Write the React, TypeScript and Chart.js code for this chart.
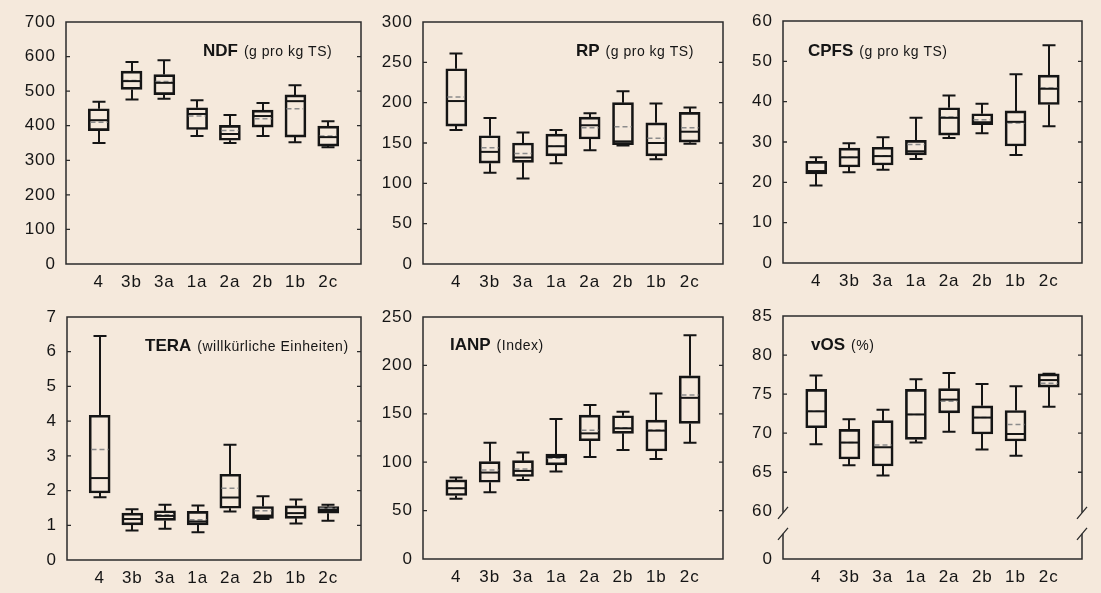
import React, { useEffect, useRef } from 'react';
import { Chart, registerables } from 'chart.js';

Chart.register(...registerables);

// ---------- data ----------
const CATEGORIES = ['4', '3b', '3a', '1a', '2a', '2b', '1b', '2c'];

// NDF (g pro kg TS)
const NDF_MIN = [350, 476, 478, 370, 350, 370, 352, 338];
const NDF_Q1 = [386, 505, 490, 389, 358, 396, 367, 341];
const NDF_MEDIAN = [416, 529, 524, 434, 376, 428, 471, 367];
const NDF_MEAN = [410, 531, 528, 428, 386, 420, 449, 370];
const NDF_Q3 = [449, 558, 548, 452, 401, 445, 489, 399];
const NDF_MAX = [469, 584, 589, 474, 431, 466, 517, 413];
const NDF_TICKS = [0, 100, 200, 300, 400, 500, 600, 700];

// RP (g pro kg TS)
const RP_MIN = [166, 113, 106, 125, 141, 147, 130, 149];
const RP_Q1 = [171, 125, 126, 134, 155, 148, 134, 151];
const RP_MEDIAN = [202, 139, 132, 146, 172, 152, 150, 164];
const RP_MEAN = [207, 144, 137, 146, 169, 170, 156, 169];
const RP_Q3 = [242, 159, 150, 161, 182, 200, 175, 188];
const RP_MAX = [261, 181, 163, 166, 187, 214, 199, 194];
const RP_TICKS = [0, 50, 100, 150, 200, 250, 300];

// CPFS (g pro kg TS)
const CPFS_MIN = [19.2, 22.5, 23.1, 25.8, 31.0, 32.2, 26.8, 33.9];
const CPFS_Q1 = [22.1, 23.8, 24.3, 26.8, 31.7, 34.3, 29.0, 39.3];
const CPFS_MEDIAN = [22.8, 26.2, 26.5, 27.7, 36.0, 34.9, 35.0, 43.2];
const CPFS_MEAN = [22.9, 26.2, 26.6, 29.4, 36.2, 35.5, 34.7, 43.4];
const CPFS_Q3 = [25.2, 28.5, 28.7, 30.4, 38.5, 37.0, 37.7, 46.6];
const CPFS_MAX = [26.2, 29.7, 31.2, 36.0, 41.5, 39.5, 46.8, 54.0];
const CPFS_TICKS = [0, 10, 20, 30, 40, 50, 60];

// TERA (willkürliche Einheiten)
const TERA_MIN = [1.81, 0.85, 0.9, 0.8, 1.4, 1.18, 1.05, 1.13];
const TERA_Q1 = [1.93, 1.01, 1.14, 1.01, 1.49, 1.2, 1.2, 1.35];
const TERA_MEDIAN = [2.36, 1.18, 1.27, 1.11, 1.8, 1.28, 1.35, 1.44];
const TERA_MEAN = [3.18, 1.18, 1.3, 1.16, 2.07, 1.42, 1.35, 1.49];
const TERA_Q3 = [4.17, 1.35, 1.42, 1.4, 2.47, 1.54, 1.56, 1.54];
const TERA_MAX = [6.45, 1.46, 1.59, 1.57, 3.32, 1.84, 1.74, 1.59];
const TERA_TICKS = [0, 1, 2, 3, 4, 5, 6, 7];

// IANP (Index)
const IANP_MIN = [62.2, 69.0, 81.7, 90.3, 105.4, 112.6, 103.4, 120.2];
const IANP_Q1 = [65.6, 79.3, 85.2, 97.2, 122.2, 129.8, 111.6, 140.1];
const IANP_MEDIAN = [73.1, 89.3, 91.0, 105.4, 129.8, 135.0, 132.6, 166.5];
const IANP_MEAN = [73.1, 92.0, 93.1, 104.0, 132.9, 135.6, 133.2, 169.3];
const IANP_Q3 = [81.7, 100.6, 101.6, 108.5, 148.7, 148.0, 143.5, 189.2];
const IANP_MAX = [84.1, 120.2, 109.9, 144.6, 159.0, 152.1, 171.0, 231.1];
const IANP_TICKS = [0, 50, 100, 150, 200, 250];

// vOS (%)
const VOS_MIN = [68.6, 65.9, 64.6, 68.8, 70.2, 67.9, 67.1, 73.4];
const VOS_Q1 = [70.7, 66.7, 65.8, 69.2, 72.6, 69.9, 69.0, 75.9];
const VOS_MEDIAN = [72.8, 68.8, 68.2, 72.4, 74.3, 72.0, 69.9, 76.8];
const VOS_MEAN = [72.8, 68.8, 68.5, 72.4, 74.1, 72.0, 71.1, 76.4];
const VOS_Q3 = [75.6, 70.5, 71.6, 75.6, 75.7, 73.5, 72.9, 77.6];
const VOS_MAX = [77.4, 71.8, 73.0, 76.9, 77.7, 76.3, 76.0, 77.6];
const VOS_TICKS = [0, 60, 65, 70, 75, 80, 85];
const VOS_BREAK = 60; // axis is broken between 0 and 60
const VOS_ZERO_AT = 53.9; // scale value where the broken "0" sits

// ---------- style ----------
const BG = '#f5e9dc';
const INK = '#151515';
const FRAME = '#2b2b2b';
const MEAN_COLOR = '#8c8c8c';
const FONT = '"Liberation Sans", Arial, Helvetica, sans-serif';
const TICK_FONT_SIZE = 17;
const TICK_SPACING = '1px';

type Stats = { min: number[]; q1: number[]; median: number[]; mean: number[]; q3: number[]; max: number[] };

interface PanelSpec {
  id: string;
  bold: string;
  unit: string;
  ticks: number[];
  breakAt?: number;
  zeroAt?: number;
  stats: Stats;
  rect: [number, number, number, number];
  title: [number, number];
}

const PANELS: PanelSpec[] = [
  {
    id: 'ndf', bold: 'NDF', unit: '(g pro kg TS)', ticks: NDF_TICKS,
    stats: { min: NDF_MIN, q1: NDF_Q1, median: NDF_MEDIAN, mean: NDF_MEAN, q3: NDF_Q3, max: NDF_MAX },
    rect: [66, 22, 361, 264], title: [137, 33.5],
  },
  {
    id: 'rp', bold: 'RP', unit: '(g pro kg TS)', ticks: RP_TICKS,
    stats: { min: RP_MIN, q1: RP_Q1, median: RP_MEDIAN, mean: RP_MEAN, q3: RP_Q3, max: RP_MAX },
    rect: [423, 22, 723, 264], title: [153, 33.5],
  },
  {
    id: 'cpfs', bold: 'CPFS', unit: '(g pro kg TS)', ticks: CPFS_TICKS,
    stats: { min: CPFS_MIN, q1: CPFS_Q1, median: CPFS_MEDIAN, mean: CPFS_MEAN, q3: CPFS_Q3, max: CPFS_MAX },
    rect: [783, 21, 1082, 263], title: [25, 35],
  },
  {
    id: 'tera', bold: 'TERA', unit: '(willkürliche Einheiten)', ticks: TERA_TICKS,
    stats: { min: TERA_MIN, q1: TERA_Q1, median: TERA_MEDIAN, mean: TERA_MEAN, q3: TERA_Q3, max: TERA_MAX },
    rect: [67, 317, 361, 560], title: [78, 33.5],
  },
  {
    id: 'ianp', bold: 'IANP', unit: '(Index)', ticks: IANP_TICKS,
    stats: { min: IANP_MIN, q1: IANP_Q1, median: IANP_MEDIAN, mean: IANP_MEAN, q3: IANP_Q3, max: IANP_MAX },
    rect: [423, 317, 723, 559], title: [27, 33],
  },
  {
    id: 'vos', bold: 'vOS', unit: '(%)', ticks: VOS_TICKS, breakAt: VOS_BREAK, zeroAt: VOS_ZERO_AT,
    stats: { min: VOS_MIN, q1: VOS_Q1, median: VOS_MEDIAN, mean: VOS_MEAN, q3: VOS_Q3, max: VOS_MAX },
    rect: [783, 316, 1082, 559], title: [28, 33.5],
  },
];

const PAD_L = 62;
const PAD_T = 22;
const PAD_R = 14;
const PAD_B = 34;
const BOX_W = 21;
const CAP_W = 13;

function tickPositions(spec: PanelSpec): number[] {
  return spec.ticks.map((v) => (v === 0 && spec.zeroAt !== undefined ? spec.zeroAt : v));
}

function makeDecor(spec: PanelSpec) {
  return {
    id: 'decor_' + spec.id,
    beforeDraw(chart: any) {
      chart.ctx.letterSpacing = TICK_SPACING;
    },
    afterDatasetsDraw(chart: any) {
      const ctx = chart.ctx as CanvasRenderingContext2D;
      const xs = chart.scales.x;
      const ys = chart.scales.y;
      const s = spec.stats;
      ctx.save();
      (ctx as any).letterSpacing = '0px';
      for (let i = 0; i < CATEGORIES.length; i++) {
        const cx = Math.round(xs.getPixelForValue(i + 1));
        const yMin = ys.getPixelForValue(s.min[i]);
        const yQ1 = ys.getPixelForValue(s.q1[i]);
        const yQ3 = ys.getPixelForValue(s.q3[i]);
        const yMax = ys.getPixelForValue(s.max[i]);
        const yMed = ys.getPixelForValue(s.median[i]);
        const yMean = ys.getPixelForValue(s.mean[i]);
        const half = BOX_W / 2;
        // mean (dashed grey)
        ctx.strokeStyle = MEAN_COLOR;
        ctx.lineWidth = 1.5;
        ctx.setLineDash([5, 3]);
        ctx.beginPath();
        ctx.moveTo(cx - half + 2, yMean);
        ctx.lineTo(cx + half - 2, yMean);
        ctx.stroke();
        ctx.setLineDash([]);
        // median
        ctx.strokeStyle = INK;
        ctx.lineWidth = 2;
        ctx.beginPath();
        ctx.moveTo(cx - half + 1, yMed);
        ctx.lineTo(cx + half - 1, yMed);
        ctx.stroke();
        // whiskers
        ctx.beginPath();
        ctx.moveTo(cx, yQ3);
        ctx.lineTo(cx, yMax);
        ctx.moveTo(cx - CAP_W / 2, yMax);
        ctx.lineTo(cx + CAP_W / 2, yMax);
        ctx.moveTo(cx, yQ1);
        ctx.lineTo(cx, yMin);
        ctx.moveTo(cx - CAP_W / 2, yMin);
        ctx.lineTo(cx + CAP_W / 2, yMin);
        ctx.stroke();
      }
      ctx.restore();
    },
    afterDraw(chart: any) {
      const ctx = chart.ctx as CanvasRenderingContext2D;
      (ctx as any).letterSpacing = '0px';
      const a = chart.chartArea;
      const ys = chart.scales.y;
      ctx.save();
      ctx.strokeStyle = FRAME;
      ctx.lineWidth = 1.5;
      ctx.lineCap = 'butt';
      // frame
      ctx.beginPath();
      ctx.moveTo(a.left, a.top);
      ctx.lineTo(a.right, a.top);
      ctx.moveTo(a.left - 0.75, a.bottom);
      ctx.lineTo(a.right + 0.75, a.bottom);
      if (spec.breakAt !== undefined) {
        const yb = ys.getPixelForValue(spec.breakAt);
        const b1 = yb + 1.5;
        const b2 = yb + 22.5;
        for (const x of [a.left, a.right]) {
          ctx.moveTo(x, a.top - 0.75);
          ctx.lineTo(x, b1);
          ctx.moveTo(x, b2);
          ctx.lineTo(x, a.bottom);
        }
        ctx.stroke();
        ctx.lineWidth = 1.3;
        ctx.beginPath();
        for (const x of [a.left, a.right]) {
          for (const yc of [b1, b2]) {
            ctx.moveTo(x + 5, yc - 6);
            ctx.lineTo(x - 5, yc + 6);
          }
        }
        ctx.stroke();
      } else {
        ctx.moveTo(a.left, a.top - 0.75);
        ctx.lineTo(a.left, a.bottom);
        ctx.moveTo(a.right, a.top - 0.75);
        ctx.lineTo(a.right, a.bottom);
        ctx.stroke();
      }
      // inward tick marks on left and right
      ctx.lineWidth = 1.3;
      ctx.beginPath();
      for (const t of ys.ticks) {
        const v = t.value;
        if (v <= ys.min || v >= ys.max || v === spec.breakAt) continue;
        const y = ys.getPixelForValue(v);
        ctx.moveTo(a.left, y);
        ctx.lineTo(a.left + 4, y);
        ctx.moveTo(a.right, y);
        ctx.lineTo(a.right - 4, y);
      }
      ctx.stroke();
      // title inside plot
      ctx.fillStyle = INK;
      ctx.textBaseline = 'alphabetic';
      ctx.textAlign = 'left';
      const tx = a.left + spec.title[0];
      const ty = a.top + spec.title[1];
      ctx.font = `bold 17px ${FONT}`;
      ctx.fillText(spec.bold, tx, ty);
      const bw = ctx.measureText(spec.bold).width;
      ctx.font = `14px ${FONT}`;
      (ctx as any).letterSpacing = '0.5px';
      ctx.fillText(spec.unit, tx + bw + 6, ty);
      (ctx as any).letterSpacing = '0px';
      ctx.restore();
    },
  };
}

function Panel({ spec }: { spec: PanelSpec }) {
  const ref = useRef<HTMLCanvasElement | null>(null);
  const [l, t, r, b] = spec.rect;
  const w = r - l + PAD_L + PAD_R;
  const h = b - t + PAD_T + PAD_B;

  useEffect(() => {
    if (!ref.current) return;
    const positions = tickPositions(spec);
    const yMin = positions[0];
    const yMax = positions[positions.length - 1];
    const chart = new Chart(ref.current, {
      type: 'bar',
      data: {
        datasets: [
          {
            data: CATEGORIES.map((_, i) => ({ x: i + 1, y: [spec.stats.q1[i], spec.stats.q3[i]] })) as any,
            backgroundColor: 'rgba(0,0,0,0)',
            borderColor: INK,
            borderWidth: 2,
            borderSkipped: false,
            barThickness: BOX_W,
            grouped: false,
          } as any,
        ],
      },
      options: {
        responsive: false,
        animation: false,
        events: [],
        layout: { padding: { left: 0, top: PAD_T, right: PAD_R, bottom: 0 } },
        plugins: { legend: { display: false }, tooltip: { enabled: false }, title: { display: false } },
        scales: {
          x: {
            type: 'linear',
            offset: false,
            min: 0,
            max: CATEGORIES.length + 1,
            grid: { display: false, offset: false },
            border: { display: false },
            afterBuildTicks: (s: any) => {
              s.ticks = CATEGORIES.map((_, i) => ({ value: i + 1 }));
            },
            afterFit: (s: any) => {
              s.height = PAD_B;
            },
            ticks: {
              autoSkip: false,
              maxRotation: 0,
              padding: 0,
              color: INK,
              font: { family: FONT, size: TICK_FONT_SIZE },
              callback: (v: any) => CATEGORIES[Math.round(Number(v)) - 1] ?? '',
            },
          },
          y: {
            type: 'linear',
            min: yMin,
            max: yMax,
            grid: { display: false },
            border: { display: false },
            afterBuildTicks: (s: any) => {
              s.ticks = positions.map((v) => ({ value: v }));
            },
            afterFit: (s: any) => {
              s.width = PAD_L;
            },
            ticks: {
              autoSkip: false,
              padding: 2,
              color: INK,
              font: { family: FONT, size: TICK_FONT_SIZE },
              callback: (_v: any, i: number) => String(spec.ticks[i]),
            },
          },
        },
      } as any,
      plugins: [makeDecor(spec) as any],
    });
    return () => chart.destroy();
  }, [spec]);

  return (
    <canvas
      ref={ref}
      width={w}
      height={h}
      style={{ position: 'absolute', left: l - PAD_L, top: t - PAD_T, width: w, height: h }}
    />
  );
}

export default function App() {
  return (
    <div
      style={{
        position: 'absolute',
        left: 0,
        top: 0,
        width: 1101,
        height: 593,
        background: BG,
        overflow: 'hidden',
      }}
    >
      {PANELS.map((p) => (
        <Panel key={p.id} spec={p} />
      ))}
    </div>
  );
}
